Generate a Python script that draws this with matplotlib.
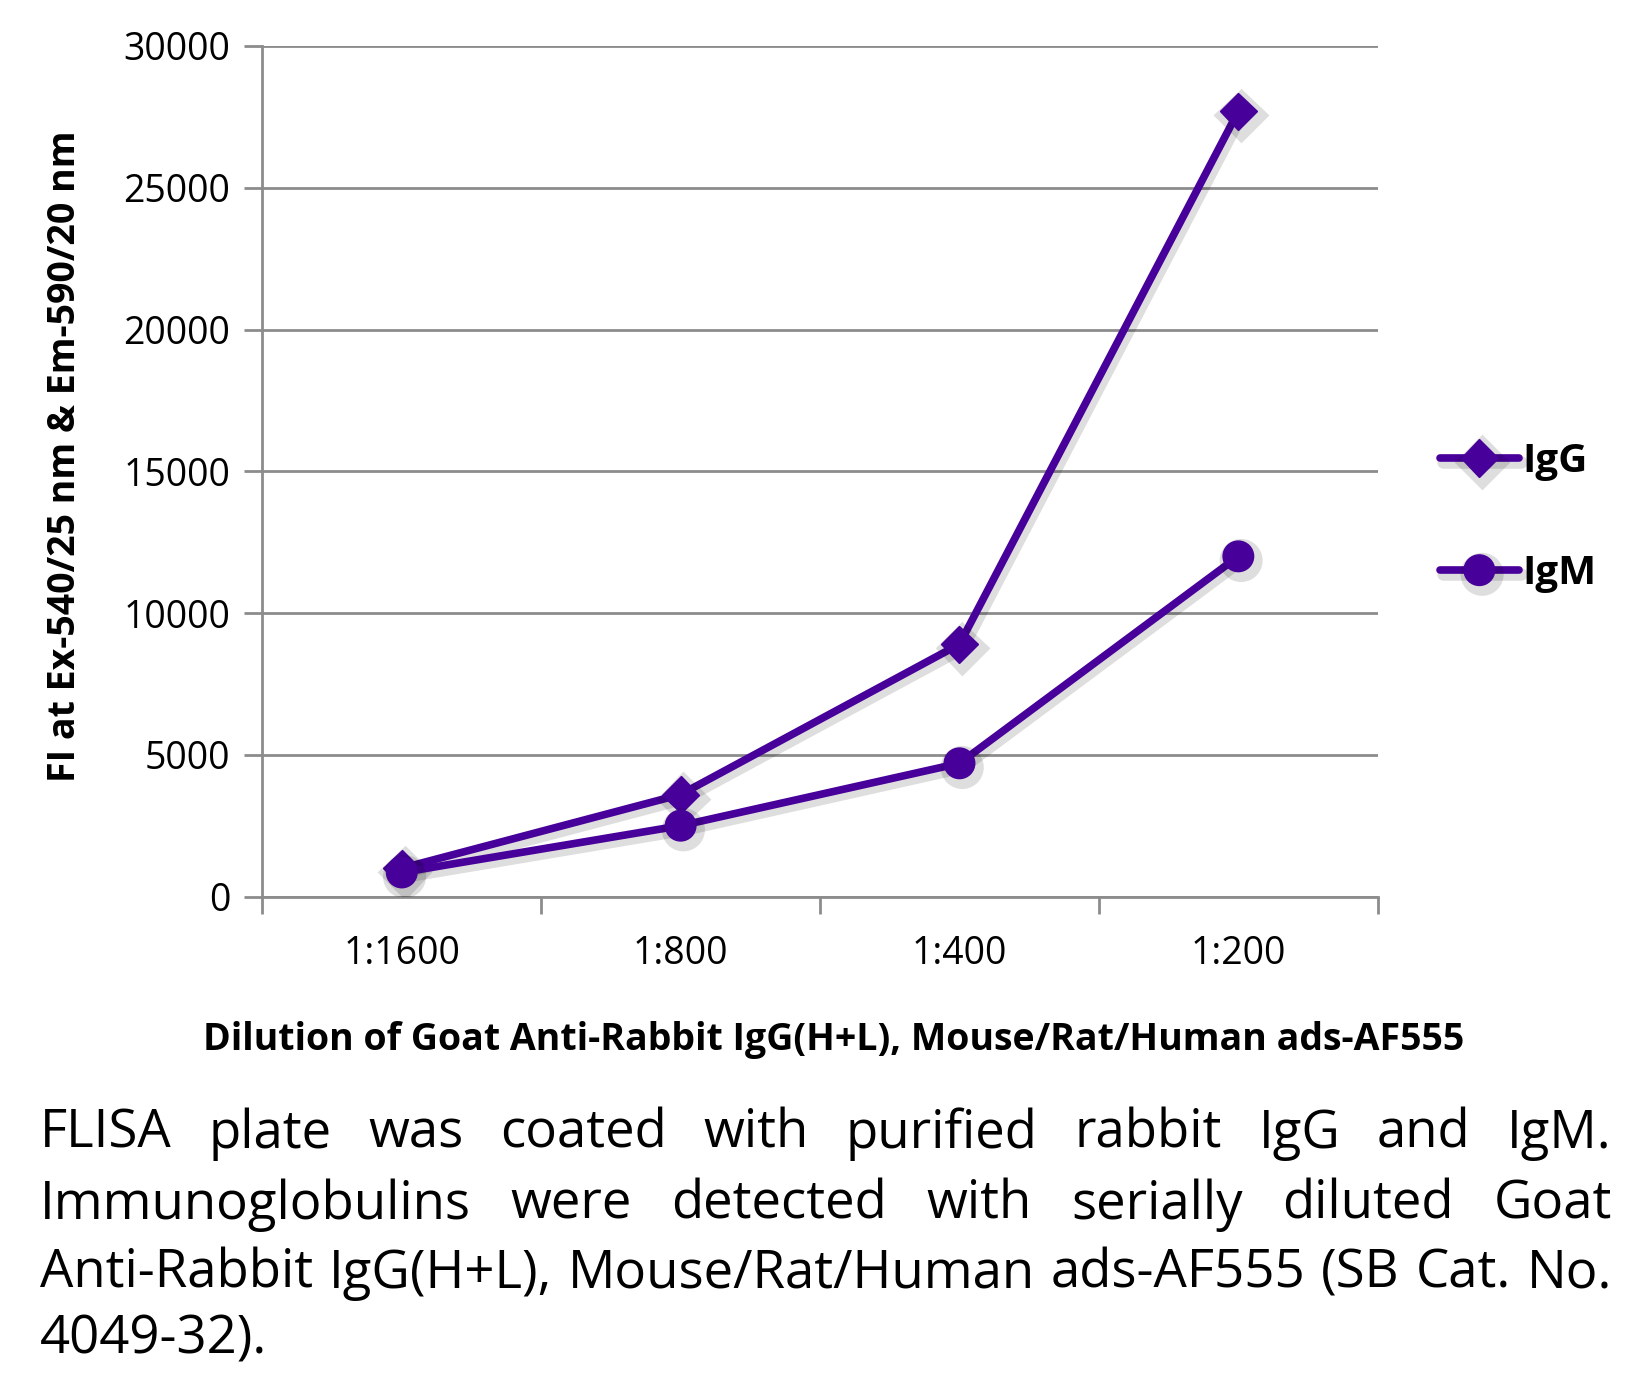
import matplotlib
matplotlib.use('Agg')
from matplotlib import pyplot as plt
import matplotlib.patheffects as pe

plt.rcParams['font.family'] = ['Open Sans', 'DejaVu Sans']

# Data
dilutions = ['1:1600', '1:800', '1:400', '1:200']
igg = [1000, 3600, 8900, 27700]
igm = [850, 2500, 4700, 12000]
yticks = [0, 5000, 10000, 15000, 20000, 25000, 30000]

caption_lines = [
    'FLISA plate was coated with purified rabbit IgG and IgM.',
    'Immunoglobulins were detected with serially diluted Goat',
    'Anti-Rabbit IgG(H+L), Mouse/Rat/Human ads-AF555 (SB Cat. No.',
    '4049-32).',
]

purple = '#47009a'
grey = '#8c8c8c'

fig = plt.figure(figsize=(16.5, 13.73), dpi=100)
ax = fig.add_axes([0.159, 0.347, 0.676, 0.6195])

x = list(range(len(dilutions)))
shadow = [pe.SimpleLineShadow(offset=(2, -3), shadow_color='black', alpha=0.13, linewidth=9),
          pe.Normal()]
ax.plot(x, igg, color=purple, lw=5.5, marker='D', ms=19, label='IgG',
        path_effects=shadow, solid_capstyle='round', zorder=3)
ax.plot(x, igm, color=purple, lw=5.5, marker='o', ms=22, label='IgM',
        path_effects=shadow, solid_capstyle='round', zorder=3)

ax.set_xlim(-0.5, 3.5)
ax.set_ylim(0, 30000)
ax.set_yticks(yticks)
ax.set_yticklabels([str(v) for v in yticks])
ax.set_xticks([-0.5, 0.5, 1.5, 2.5, 3.5])
ax.set_xticklabels([])
ax.set_xticks(x, minor=True)
ax.set_xticklabels(dilutions, minor=True)
ax.tick_params(axis='x', which='major', length=12, width=2, color=grey, direction='out')
ax.tick_params(axis='x', which='minor', length=0, pad=28, labelsize=27)
ax.tick_params(axis='y', length=13, width=2, color=grey, pad=10, labelsize=27)
ax.grid(axis='y', color=grey, lw=2)
ax.set_axisbelow(True)
for s in ['top', 'right']:
    ax.spines[s].set_visible(False)
for s in ['left', 'bottom']:
    ax.spines[s].set_color(grey)
    ax.spines[s].set_linewidth(2)

ax.set_ylabel('FI at Ex-540/25 nm & Em-590/20 nm', fontsize=27, fontweight='bold')
ax.yaxis.set_label_coords(-0.16, 0.518)
fig.text(0.505, 0.2425, 'Dilution of Goat Anti-Rabbit IgG(H+L), Mouse/Rat/Human ads-AF555',
         fontsize=27, fontweight='bold', ha='center', va='center')

leg = fig.legend(loc='center left', bbox_to_anchor=(0.863, 0.623), frameon=False,
                 prop={'size': 29, 'weight': 'bold'}, labelspacing=1.82,
                 handlelength=1.95, handletextpad=0.1, borderaxespad=0)

# justified caption
fig.canvas.draw()
renderer = fig.canvas.get_renderer()
left_px, right_px = 40, 1612
base_y = [1134, 1205, 1274, 1340]
H = 1373
for i, line in enumerate(caption_lines):
    words = line.split(' ')
    texts = [fig.text(0, 1 - base_y[i] / H, w, fontsize=38, va='center', ha='left') for w in words]
    widths = [t.get_window_extent(renderer).width for t in texts]
    if i < len(caption_lines) - 1 and len(words) > 1:
        gap = (right_px - left_px - sum(widths)) / (len(words) - 1)
    else:
        gap = 12
    pos = left_px
    for t, w in zip(texts, widths):
        t.set_x(pos / 1650)
        pos += w + gap

fig.savefig('out.png', dpi=100)
